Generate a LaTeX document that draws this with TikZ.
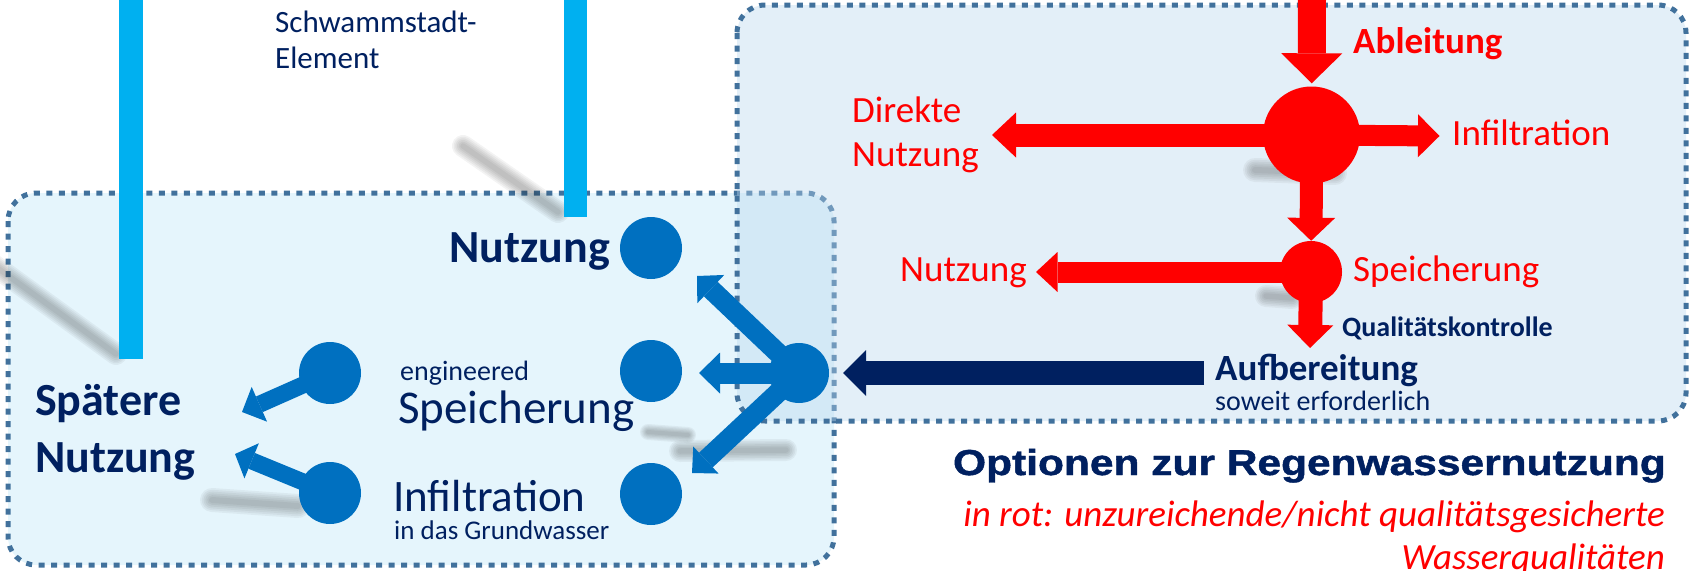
\documentclass[tikz,border=0pt]{standalone}
\usepackage{fontspec}
\setmainfont{Carlito}
\newfontfamily\titlefont[BoldFeatures={FakeBold=1.2}]{Liberation Sans}
\usetikzlibrary{arrows.meta}
\definecolor{cyanbar}{HTML}{00B0F0}
\definecolor{bluec}{HTML}{0070C0}
\definecolor{navy}{HTML}{002060}
\definecolor{redc}{HTML}{FF0000}
\definecolor{dotc}{HTML}{41719C}
\definecolor{leftfill}{HTML}{CBEBF9}
\definecolor{rightfill}{HTML}{BAD7ED}
\newcommand\fsz[1]{\fontsize{#1}{#1}\selectfont}
\newcommand\shadowline[3]{\foreach \f in {1.0,0.85,0.7,0.55,0.4,0.25}{\draw[line width=\f*#3, draw=black!85, opacity=0.055, line cap=round] #1 -- #2;}}
\tikzset{
  optbox/.style={draw=dotc, line width=5pt, dash pattern=on 6pt off 6.5pt, rounded corners=28pt},
  txt/.style={inner sep=0pt, anchor=base west},
  txte/.style={inner sep=0pt, anchor=base east},
  dotnode/.style={circle, inner sep=0pt, minimum size=#1},
  blk/.style n args={4}{draw=#4, line width=#1, -{Triangle[length=#2, width=#3, line width=0pt]}},
}
\begin{document}
\begin{tikzpicture}[x=1pt, y=-1pt]
\useasboundingbox (0,0) rectangle (1691,570);
% option boxes
\path[optbox, fill=leftfill, fill opacity=0.5] (8,193) rectangle (834,565);
\path[optbox, fill=rightfill, fill opacity=0.4] (737,5) rectangle (1686,421);
% soft shadows
\shadowline{(-8,264)}{(116,354)}{22pt}
\shadowline{(463,146)}{(558,212)}{22pt}
\shadowline{(1255,170)}{(1335,173)}{24pt}
\shadowline{(1266,296)}{(1292,298)}{22pt}
\shadowline{(648,432)}{(688,435)}{16pt}
\shadowline{(680,451)}{(786,450)}{22pt}
\shadowline{(212,500)}{(298,506)}{24pt}
% Schwammstadt-Element bars
\fill[cyanbar] (119,-2) rectangle (143,359);
\fill[cyanbar] (564,-2) rectangle (587,217);
\node[txt, text=navy, font=\fsz{31}] (sch1) at (275,32) {Schwammstadt-};
\node[txt, text=navy, font=\fsz{31}] (sch2) at (275,68) {Element};
% red (not quality assured) path
\node[dotnode=97pt, fill=redc] (rbig) at (1311.5,135) {};
\node[dotnode=62pt, fill=redc] (rsmall) at (1311,272) {};
\coordinate (topin) at (1312,-5);
\coordinate (tipDN) at (992,135);
\coordinate (tipRI) at (1439.5,136);
\coordinate (tipRN) at (1036,272);
\coordinate (tipQ) at (1310,348);
\draw[blk={28pt}{30pt}{61pt}{redc}, shorten >=3pt] (topin) -- (rbig);
\draw[blk={23pt}{24pt}{45pt}{redc}] (rbig.center) -- (tipDN);
\draw[blk={21pt}{21.5pt}{43pt}{redc}] (rbig.center) -- (tipRI);
\draw[blk={23pt}{23pt}{48pt}{redc}] (rbig.center) -- (rsmall);
\draw[blk={21pt}{21.5pt}{40pt}{redc}] (rsmall.center) -- (tipRN);
\draw[blk={24pt}{23pt}{46pt}{redc}] (rsmall.center) -- (tipQ);
\node[txt, text=redc, font=\fsz{37}\bfseries] (ableit) at (1353,53) {Ableitung};
\node[txt, text=redc, font=\fsz{37}] (direkte) at (852,122) {Direkte};
\node[txt, text=redc, font=\fsz{37}] (dnutz) at (852,166) {Nutzung};
\node[txt, text=redc, font=\fsz{37}] (rinf) at (1452,145) {Infiltration};
\node[txt, text=redc, font=\fsz{37}] (rnutz) at (900,281) {Nutzung};
\node[txt, text=redc, font=\fsz{37}] (rspeich) at (1353,281) {Speicherung};
\node[txt, text=navy, font=\fsz{28}\bfseries] (qual) at (1342,336) {Qualitätskontrolle};
\node[txt, text=navy, font=\fsz{37}\bfseries] (aufb) at (1215,380) {Aufbereitung};
\node[txt, text=navy, font=\fsz{28}] (soweit) at (1215,410) {soweit erforderlich};
% blue (engineered) part
\node[dotnode=60pt, fill=bluec] (hub) at (799,373) {};
\node[dotnode=62pt, fill=bluec] (n1) at (651,248) {};
\node[dotnode=62pt, fill=bluec] (n2) at (651,371) {};
\node[dotnode=62pt, fill=bluec] (n3) at (651,494) {};
\node[dotnode=62pt, fill=bluec] (l1) at (330,373) {};
\node[dotnode=62pt, fill=bluec] (l2) at (330,493) {};
\coordinate (navystart) at (1204,373);
\coordinate (tipU) at (697,276);
\coordinate (tipM) at (699,373);
\coordinate (tipL) at (692,473);
\coordinate (tipS1) at (242,412);
\coordinate (tipS2) at (235,454);
\draw[blk={24pt}{23pt}{46pt}{navy}, shorten >=14pt] (navystart) -- (hub);
\draw[blk={20pt}{19pt}{39pt}{bluec}] (hub.center) -- (tipU);
\draw[blk={21pt}{21pt}{41pt}{bluec}] (hub.center) -- (tipM);
\draw[blk={20pt}{19pt}{37pt}{bluec}] (hub.center) -- (tipL);
\draw[blk={17pt}{19pt}{38pt}{bluec}] (l1.center) -- (tipS1);
\draw[blk={17pt}{18pt}{38pt}{bluec}] (l2.center) -- (tipS2);
\node[txte, text=navy, font=\fsz{46}\bfseries] (nutz) at (610,262) {Nutzung};
\node[txt, text=navy, font=\fsz{46}\bfseries] (spaet1) at (35,415) {Spätere};
\node[txt, text=navy, font=\fsz{46}\bfseries] (spaet2) at (35,472) {Nutzung};
\node[txt, text=navy, font=\fsz{28}] (eng) at (400,380) {engineered};
\node[txt, text=navy, font=\fsz{47}] (speich) at (398,423) {Speicherung};
\node[txt, text=navy, font=\fsz{45}] (infil) at (393,511) {Infiltration};
\node[txt, text=navy, font=\fsz{27}] (grund) at (394,539) {in das Grundwasser};
% title and note
\node[txte, text=navy, font=\titlefont\bfseries\fsz{36}] (title) at (1666,475) {\scalebox{1.18}[1]{Optionen zur Regenwassernutzung}};
\node[txte, text=redc, font=\fsz{37}\itshape] (inrot) at (1665,526) {in rot: unzureichende/nicht qualitätsgesicherte};
\node[txte, text=redc, font=\fsz{37}\itshape] (wasser) at (1665,569) {Wasserqualitäten};
\end{tikzpicture}
\end{document}
